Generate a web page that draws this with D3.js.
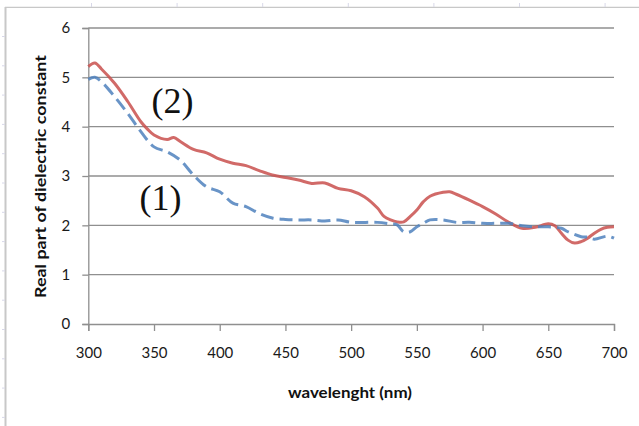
<!DOCTYPE html>
<html><head><meta charset="utf-8">
<script src="https://cdn.jsdelivr.net/npm/d3@7"></script>
<style>body{margin:0;background:#fff;} svg{display:block;}</style>
</head><body>
<svg id="c" width="639" height="426"></svg>
<script>
// Series (2) – red
const wl2 = [300,305,310,320,330,340,345,350,360,365,370,380,390,400,410,420,430,440,450,460,470,480,490,500,510,520,525,530,535,540,545,550,555,560,570,575,580,590,600,610,620,630,640,650,655,660,665,670,675,680,685,690,695,700];
const eps2 = [5.22,5.29,5.17,4.88,4.51,4.10,3.95,3.83,3.74,3.78,3.70,3.54,3.47,3.34,3.26,3.21,3.11,3.02,2.97,2.92,2.85,2.86,2.75,2.70,2.58,2.35,2.18,2.11,2.07,2.07,2.18,2.31,2.48,2.59,2.67,2.68,2.63,2.51,2.38,2.23,2.06,1.94,1.96,2.03,1.99,1.84,1.70,1.64,1.67,1.74,1.84,1.92,1.96,1.97];
// Series (1) – blue
const wl1 = [300,305,310,320,330,340,350,360,370,380,390,400,410,420,430,440,450,460,470,480,490,500,520,530,535,540,545,550,555,560,570,580,590,600,610,620,630,640,650,660,665,675,680,685,695,700];
const eps1 = [4.96,5.00,4.91,4.61,4.27,3.90,3.59,3.49,3.32,3.02,2.78,2.68,2.45,2.38,2.24,2.15,2.12,2.11,2.11,2.09,2.11,2.06,2.06,2.03,2.01,1.87,1.87,1.97,2.04,2.11,2.11,2.06,2.06,2.04,2.04,2.04,1.99,1.97,1.97,1.94,1.87,1.77,1.76,1.72,1.78,1.74];
const xTicks = [300,350,400,450,500,550,600,650,700];
const yTicks = [0,1,2,3,4,5,6];
const labels = [{t:"(2)", w:364, v:4.27},{t:"(1)", w:355, v:2.32}];

const svg = d3.select("#c");
const x = d3.scaleLinear().domain([300,700]).range([88.3,614]);
const y = d3.scaleLinear().domain([0,6]).range([324,28]);
const lf = "Lato, 'Open Sans', sans-serif";

// outer sheet frame
const frame = svg.append("g").attr("stroke","#c8c8c8");
frame.append("line").attr("x1",5).attr("x2",639).attr("y1",7.3).attr("y2",7.3).attr("stroke-width",1.2);
frame.append("line").attr("x1",5.5).attr("x2",5.5).attr("y1",7).attr("y2",426).attr("stroke-width",2);
for (let k=0;k<7;k++){ const xx=91.5+k*85.6; frame.append("line").attr("x1",xx).attr("x2",xx).attr("y1",3).attr("y2",7).attr("stroke","#d8d8e8"); }
for (let k=0;k<14;k++){ const yy=36.5+k*29.3; frame.append("line").attr("x1",2).attr("x2",5).attr("y1",yy).attr("y2",yy).attr("stroke","#d8d8e8"); }

// gridlines
svg.append("g").selectAll("line").data(yTicks.filter(d=>d>0)).join("line")
  .attr("x1",x(300)).attr("x2",x(700)).attr("y1",d=>y(d)).attr("y2",d=>y(d))
  .attr("stroke","#8f8f8f").attr("stroke-width",1.3);

// axes
const gx = svg.append("g").attr("transform",`translate(0,${y(0)})`)
  .call(d3.axisBottom(x).tickValues(xTicks).tickSize(7).tickPadding(16).tickFormat(d3.format("d")));
const gy = svg.append("g").attr("transform",`translate(${x(300)},0)`)
  .call(d3.axisLeft(y).tickValues(yTicks).tickSize(6).tickPadding(12).tickFormat(d3.format("d")));
[gx,gy].forEach(g=>{
  g.select(".domain").attr("stroke","#8f8f8f").attr("stroke-width",1.3);
  g.selectAll(".tick line").attr("stroke","#8f8f8f").attr("stroke-width",1.3);
  g.selectAll("text").attr("font-family",lf).attr("font-size",15).attr("fill","#1a1a1a");
});

// lines
const line = d3.line().x(d=>x(d[0])).y(d=>y(d[1])).curve(d3.curveCatmullRom);
svg.append("path").datum(wl2.map((w,i)=>[w,eps2[i]])).attr("d",line)
  .attr("fill","none").attr("stroke","#c9504d").attr("stroke-width",3).attr("stroke-opacity",0.85);
svg.append("path").datum(wl1.map((w,i)=>[w,eps1[i]])).attr("d",line)
  .attr("fill","none").attr("stroke","#4f81bd").attr("stroke-width",3).attr("stroke-opacity",0.85)
  .attr("stroke-dasharray","13,6");

// annotations
svg.append("g").selectAll("text").data(labels).join("text")
  .attr("x",d=>x(d.w)).attr("y",d=>y(d.v)).attr("text-anchor","middle")
  .attr("font-family","'Liberation Serif', 'DejaVu Serif', serif").attr("font-size",36).attr("fill","#111")
  .text(d=>d.t);

// axis titles
svg.append("text").attr("x",350).attr("y",398).attr("text-anchor","middle")
  .attr("font-family",lf).attr("font-weight","bold").attr("font-size",16).attr("fill","#111")
  .attr("textLength",124).attr("lengthAdjust","spacingAndGlyphs").text("wavelenght (nm)");
svg.append("text").attr("transform","translate(46,176.5) rotate(-90)").attr("text-anchor","middle")
  .attr("font-family",lf).attr("font-weight","bold").attr("font-size",16).attr("fill","#111")
  .attr("textLength",243).attr("lengthAdjust","spacingAndGlyphs").text("Real part of dielectric constant");
</script>
</body></html>
